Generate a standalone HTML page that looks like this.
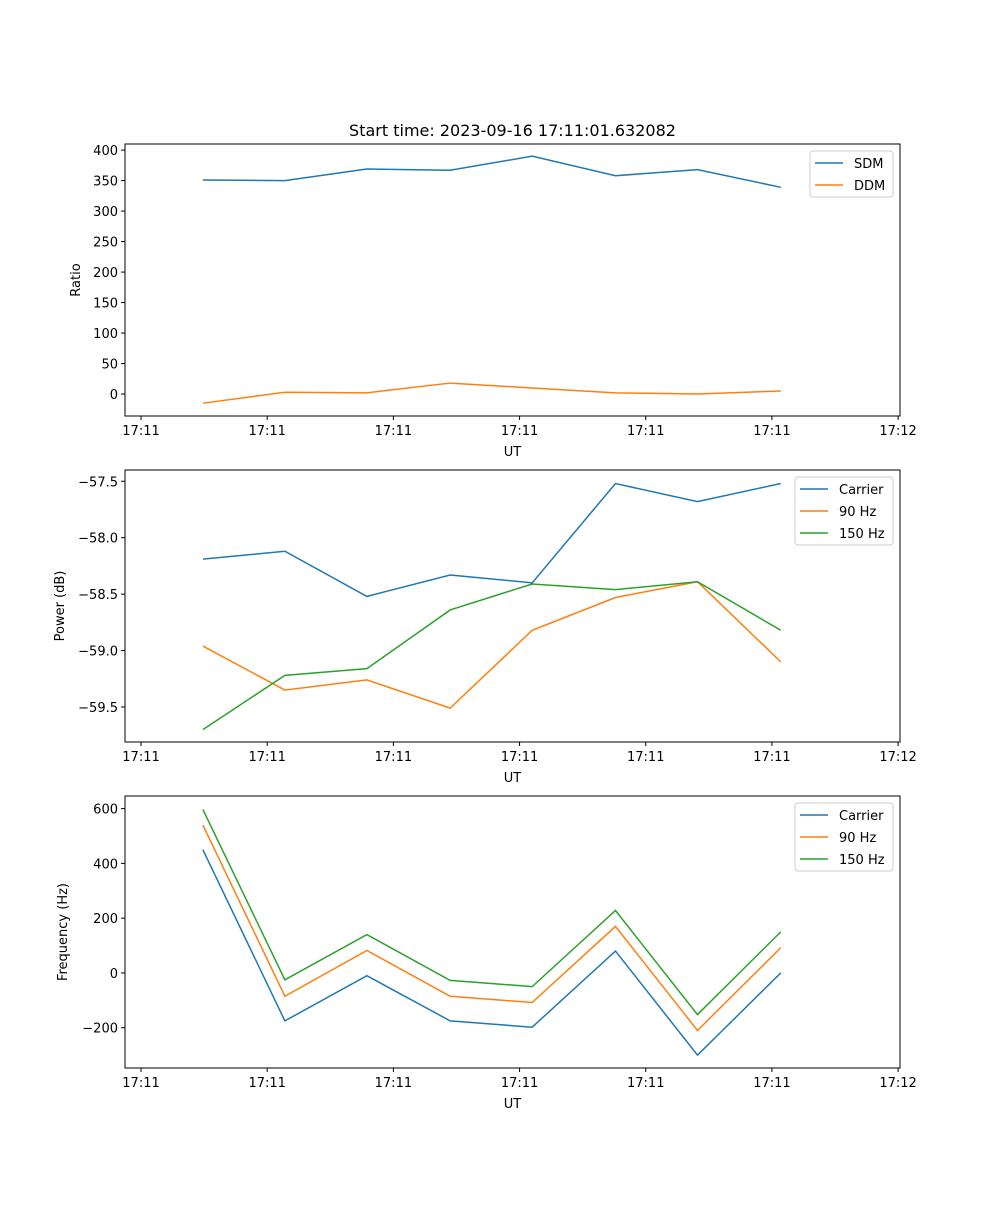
<!DOCTYPE html>
<html><head><meta charset="utf-8"><style>
html,body{margin:0;padding:0;background:#fff;}
svg text{font-family:"DejaVu Sans","Liberation Sans",sans-serif;fill:#000;}
</style></head><body>
<svg id="fig" width="1000" height="1200" xmlns="http://www.w3.org/2000/svg">
<text x="512.5" y="136" font-size="16" text-anchor="middle">Start time: 2023-09-16 17:11:01.632082</text>
</svg>
<script>
// time in seconds after 17:11:00
const times = [4.9, 11.4, 17.9, 24.5, 31.0, 37.6, 44.1, 50.7];
const xTickValues = [0, 10, 20, 30, 40, 50, 60];
const xTickLabels = ["17:11","17:11","17:11","17:11","17:11","17:11","17:12"];
const sdm = [351, 350, 369, 367, 390, 358, 368, 339];
const ddm = [-15, 3, 2, 18, 10, 2, 0, 5];
const powCarrier = [-58.19, -58.12, -58.52, -58.33, -58.40, -57.52, -57.68, -57.52];
const pow90 = [-58.96, -59.35, -59.26, -59.51, -58.82, -58.53, -58.39, -59.10];
const pow150 = [-59.70, -59.22, -59.16, -58.64, -58.41, -58.46, -58.39, -58.82];
const freqCarrier = [450, -175, -10, -175, -198, 80, -300, 0];
const freq90 = [540, -85, 82, -85, -108, 170, -210, 92];
const freq150 = [597, -25, 140, -27, -50, 228, -152, 150];
const ticks1 = [0, 50, 100, 150, 200, 250, 300, 350, 400];
const ticks2 = [-59.5, -59.0, -58.5, -58.0, -57.5];
const ticks3 = [-200, 0, 200, 400, 600];

const NS = "http://www.w3.org/2000/svg";
const svg = document.getElementById("fig");
const C = ["#1f77b4", "#ff7f0e", "#2ca02c"];
function mk(tag, attrs, parent) {
  const e = document.createElementNS(NS, tag);
  for (const k in attrs) e.setAttribute(k, attrs[k]);
  (parent || svg).appendChild(e);
  return e;
}
const L = 125, R = 900, XMIN = -1.27, XMAX = 60.15;
const xs = t => L + (t - XMIN) / (XMAX - XMIN) * (R - L);

function panel(name, top, bottom, ymin, ymax, yTicks, fmt, ylabel, series, legend) {
  const g = mk("g", {});
  
  
  const ys = v => bottom - (v - ymin) / (ymax - ymin) * (bottom - top);
  series.forEach((s, i) => {
    const p = mk("polyline", {points: s.data.map((v, j) => xs(times[j]) + "," + ys(v)).join(" "), fill: "none", stroke: C[i], "stroke-width": 1.5}, g);
    
    
  });
  const fr = mk("rect", {x: L, y: top, width: R - L, height: bottom - top, fill: "none", stroke: "#000", "stroke-width": 1}, g);
  
  
  xTickValues.forEach((v, i) => {
    const x = xs(v);
    mk("line", {x1: x, x2: x, y1: bottom, y2: bottom + 4, stroke: "#000"}, g);
    const t = mk("text", {x: x, y: bottom + 19, "font-size": 13, "text-anchor": "middle"}, g);
    t.textContent = xTickLabels[i];
    
    
  });
  yTicks.forEach(v => {
    const y = ys(v);
    mk("line", {x1: L - 4, x2: L, y1: y, y2: y, stroke: "#000"}, g);
    const t = mk("text", {x: L - 7, y: y + 5, "font-size": 13, "text-anchor": "end"}, g);
    t.textContent = fmt(v);
    
    
  });
  const xl = mk("text", {x: (L + R) / 2, y: bottom + 40, "font-size": 13, "text-anchor": "middle"}, g);
  xl.textContent = "UT";
  
  
  const ylx = legend.ylx, ylyy = (top + bottom) / 2;
  const yl = mk("text", {x: ylx, y: ylyy, "font-size": 13, "text-anchor": "middle", transform: "rotate(-90 " + ylx + " " + ylyy + ")"}, g);
  yl.textContent = ylabel;
  
  
  const lg = mk("g", {}, g);
  
  
  const n = series.length;
  mk("rect", {x: legend.x, y: top + 7, width: 893 - legend.x, height: 22 * n + 2, rx: 3, fill: "#fff", "fill-opacity": 0.8, stroke: "#ccc"}, lg);
  series.forEach((s, i) => {
    const y = top + 19 + 22 * i;
    mk("line", {x1: legend.x + 5, x2: legend.x + 33, y1: y, y2: y, stroke: C[i], "stroke-width": 1.5}, lg);
    const t = mk("text", {x: legend.x + 44, y: y + 5, "font-size": 13}, lg);
    t.textContent = s.label;
    
    
  });
}
panel("ratio-panel", 144, 416, -36, 410, ticks1, v => String(v), "Ratio",
  [{id: "sdm", label: "SDM", data: sdm}, {id: "ddm", label: "DDM", data: ddm}], {x: 810, ylx: 80});
panel("power-panel", 470, 742, -59.81, -57.40, ticks2, v => "\u2212" + Math.abs(v).toFixed(1), "Power (dB)",
  [{id: "carrier", label: "Carrier", data: powCarrier}, {id: "90hz", label: "90 Hz", data: pow90}, {id: "150hz", label: "150 Hz", data: pow150}], {x: 795, ylx: 64});
panel("frequency-panel", 796, 1068, -347, 646, ticks3, v => v < 0 ? "\u2212" + Math.abs(v) : String(v), "Frequency (Hz)",
  [{id: "carrier", label: "Carrier", data: freqCarrier}, {id: "90hz", label: "90 Hz", data: freq90}, {id: "150hz", label: "150 Hz", data: freq150}], {x: 795, ylx: 67});
</script>
</body></html>
